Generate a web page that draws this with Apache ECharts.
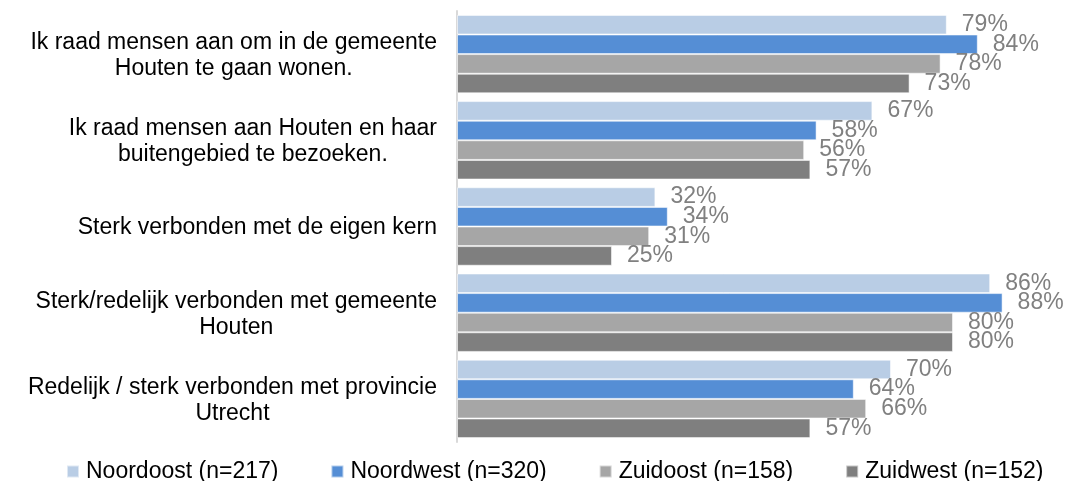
<!DOCTYPE html>
<html>
<head>
<meta charset="utf-8">
<script src="https://cdn.jsdelivr.net/npm/echarts@6/dist/echarts.min.js"></script>
<style>
  html, body { margin: 0; padding: 0; background: #fff; }
</style>
</head>
<body>
<div id="houten_chart" style="width:1074px;height:481px;"></div>
<script>
// categorieen (van boven naar beneden)
var categories = [
    'Ik raad mensen aan om in de gemeente\nHouten te gaan wonen.',
    'Ik raad mensen aan Houten en haar\nbuitengebied te bezoeken.',
    'Sterk verbonden met de eigen kern',
    'Sterk/redelijk verbonden met gemeente\nHouten',
    'Redelijk / sterk verbonden met provincie\nUtrecht'
];
var seriesNames = ['Noordoost (n=217)', 'Noordwest (n=320)', 'Zuidoost (n=158)', 'Zuidwest (n=152)'];
var noordoost = [79, 67, 32, 86, 70];
var noordwest = [84, 58, 34, 88, 64];
var zuidoost = [78, 56, 31, 80, 66];
var zuidwest = [73, 57, 25, 80, 57];
var colors = ['#B9CDE5', '#558ED5', '#A6A6A6', '#7F7F7F'];

var font = '"Liberation Sans", Arial, sans-serif';

function makeSeries(name, values, color) {
    return {
        name: name,
        type: 'bar',
        data: values,
        barGap: '0%',
        barCategoryGap: '9%',
        itemStyle: {
            color: color,
            borderColor: 'rgba(255,255,255,0.55)',
            borderWidth: 1
        },
        label: {
            show: true,
            position: 'right',
            distance: 15,
            color: '#808080',
            fontSize: 23,
            fontFamily: font,
            formatter: '{c}%'
        }
    };
}

const option = {
    animation: false,
    color: colors,
    grid: {
        left: 457,
        right: 59,
        top: 11,
        bottom: 39
    },
    legend: {
        left: 61,
        top: 455,
        icon: 'rect',
        itemWidth: 12,
        itemHeight: 12,
        itemGap: 52,
        textStyle: {
            color: '#000',
            fontSize: 23,
            fontFamily: font,
            padding: [0, 0, 0, 2]
        },
        data: seriesNames
    },
    xAxis: {
        type: 'value',
        min: 0,
        max: 90,
        show: false,
        splitLine: { show: false }
    },
    yAxis: {
        type: 'category',
        inverse: true,
        data: categories,
        axisTick: { show: false },
        axisLine: {
            show: true,
            lineStyle: { color: '#d9d9d9', width: 2 }
        },
        axisLabel: {
            margin: 20,
            formatter: function (value) {
                return value.split('\n').map(function (l) { return '{c|' + l + '}'; }).join('\n');
            },
            rich: {
                c: {
                    align: 'center',
                    color: '#000',
                    fontSize: 23,
                    lineHeight: 26,
                    fontFamily: font,
                    padding: [3, 0, 0, 0]
                }
            }
        }
    },
    series: [
        makeSeries(seriesNames[0], noordoost, colors[0]),
        makeSeries(seriesNames[1], noordwest, colors[1]),
        makeSeries(seriesNames[2], zuidoost, colors[2]),
        makeSeries(seriesNames[3], zuidwest, colors[3])
    ]
};

const houtenChart = echarts.init(document.getElementById('houten_chart'));
houtenChart.setOption(option);

window.addEventListener('resize', function () {
    houtenChart.resize();
});
</script>
</body>
</html>
